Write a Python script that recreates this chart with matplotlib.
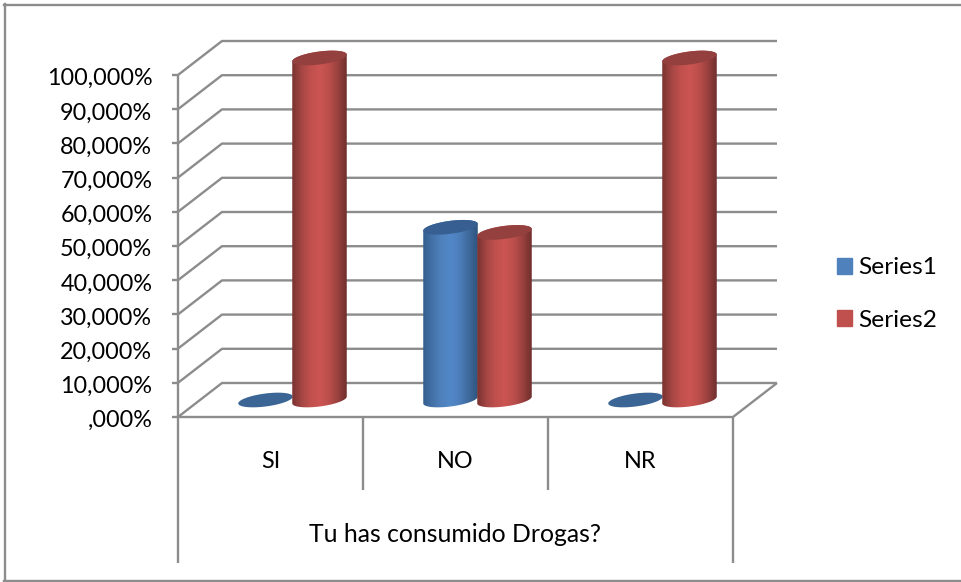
import numpy as np
import matplotlib
matplotlib.use('Agg')
import matplotlib.pyplot as plt
from matplotlib.colors import LinearSegmentedColormap
from matplotlib.lines import Line2D
from matplotlib.patches import Patch, PathPatch
from matplotlib.path import Path
from matplotlib.transforms import ScaledTranslation

categories = ['SI', 'NO', 'NR']
series_names = ['Series1', 'Series2']
series1 = [0, 50.5, 0]
series2 = [100, 49, 100]
y_ticks = [0, 10, 20, 30, 40, 50, 60, 70, 80, 90, 100]
y_labels = [',000%', '10,000%', '20,000%', '30,000%', '40,000%', '50,000%',
            '60,000%', '70,000%', '80,000%', '90,000%', '100,000%']
group_label = 'Tu has consumido Drogas?'

W, H = 962, 582
plt.rcParams['font.family'] = ['Lato', 'DejaVu Sans']

# plot box of the front plane, in pixels
left, right, y0, y100 = 178, 733, 417, 75
px = 3 / (right - left)         # category units per pixel
py = 100 / (y0 - y100)          # percent per pixel
depth_x, depth_y = 44 * px, 34 * py

grid_col = '#8c8c8c'
grid_lw = 1.7
cyl_w = 54.5 * px
ell_h = 6.5 * py
tilt = 3.4 * py  # rise of the right end of the ellipses

cmap1 = LinearSegmentedColormap.from_list('c1', ['#345f8f', '#4472a8', '#4f81bd', '#5288c8', '#4d7fbb', '#3f6a9c', '#2f5580'])
cmap2 = LinearSegmentedColormap.from_list('c2', ['#7a3331', '#a44644', '#c0504d', '#cc5552', '#bc4f4c', '#9c4240', '#6f2f2d'])
top_cols = ['#375f91', '#94403e']
base_cols = ['#3a6595', '#a64745']

fig = plt.figure(figsize=(W / 100, H / 100), dpi=100)
ax = fig.add_axes([left / W, (H - y0) / H, (right - left) / W, (y0 - y100) / H])
ax.set_xlim(0, 3)
ax.set_ylim(0, 100)
ax.patch.set_visible(False)
for s in ax.spines.values():
    s.set_visible(False)

ax.set_yticks(y_ticks)
ax.set_yticklabels(y_labels, fontsize=16.8, color='black')
ax.tick_params(axis='y', length=4.5, width=grid_lw, color=grid_col, pad=14)
ax.set_xticks([])
shift = ScaledTranslation(0, -1.3 / 72, fig.dpi_scale_trans)
for lbl in ax.get_yticklabels():
    lbl.set_transform(lbl.get_transform() + shift)


def line(xs, ys):
    ax.plot(xs, ys, color=grid_col, lw=grid_lw, clip_on=False, solid_capstyle='butt', zorder=1)


# walls and floor
for v in y_ticks:
    line([0, depth_x, 3 + depth_x], [v, v + depth_y, v + depth_y])
line([0, 0], [0, 100])
line([0, 3, 3 + depth_x], [0, 0, depth_y])

# category box under the floor
low, mid = (y0 - 563) * py, (y0 - 490) * py
line([0, 0], [0, low])
line([3, 3], [0, low])
line([1, 1], [0, mid])
line([2, 2], [0, mid])
for i, c in enumerate(categories):
    ax.text(i + 0.5, (y0 - 461) * py, c, ha='center', va='center', fontsize=16.8, clip_on=False)
ax.text(1.5, (y0 - 535) * py, group_label, ha='center', va='center', fontsize=17.8, clip_on=False)


def ellipse(cx, cy, t):
    return cx + cyl_w / 2 * np.cos(t), cy + ell_h * np.sin(t) + tilt * np.cos(t)


def cylinder(cx, val, cm, top_col, base_col, z):
    cy = depth_y / 2
    t = np.linspace(0, 2 * np.pi, 90)
    if val <= 0:
        ex, ey = ellipse(cx, cy, t)
        ax.fill(ex, ey, color=base_col, clip_on=False, zorder=z, lw=0)
        return
    # outline: front half of the base, then up and over the back
    bx, by = ellipse(cx, cy, np.linspace(np.pi, 2 * np.pi, 45))
    tx, ty = ellipse(cx, cy + val, np.linspace(0, np.pi, 45))
    verts = np.column_stack([np.r_[bx, tx], np.r_[by, ty]])
    verts = np.vstack([verts, verts[0]])
    clip = PathPatch(Path(verts), transform=ax.transData, fc='none', ec='none')
    ax.add_patch(clip)
    im = ax.imshow(np.linspace(0, 1, 64)[None, :], cmap=cm, aspect='auto', zorder=z,
                   extent=[cx - cyl_w / 2, cx + cyl_w / 2, cy - ell_h - tilt, cy + val + ell_h + tilt])
    im.set_clip_box(fig.bbox)
    im.set_clip_path(clip)
    ex, ey = ellipse(cx, cy + val, t)
    ax.fill(ex, ey, color=top_col, clip_on=False, zorder=z + 0.1, lw=0)


for i in range(len(categories)):
    cx = i + 0.5 + depth_x / 2
    cylinder(cx - 27 * px, series1[i], cmap1, top_cols[0], base_cols[0], 3 + i)
    cylinder(cx + 27 * px, series2[i], cmap2, top_cols[1], base_cols[1], 3.5 + i)
ax.set_xlim(0, 3)
ax.set_ylim(0, 100)

leg = fig.legend(handles=[Patch(color='#4f81bd', label=series_names[0]), Patch(color='#c0504d', label=series_names[1])],
                 loc='center left', bbox_to_anchor=(837 / W, (H - 294) / H), frameon=False, fontsize=17.6,
                 handlelength=0.62, handleheight=0.62, handletextpad=0.24, labelspacing=1.28, borderpad=0, borderaxespad=0)

# outer frame: left, top and bottom edges
for xs, ys in [([5, 5], [4, 581]), ([4, 961], [4.5, 4.5]), ([4, 961], [581, 581])]:
    fig.add_artist(Line2D([x / W for x in xs], [(H - y) / H for y in ys], transform=fig.transFigure,
                          color=grid_col, lw=1.7))

fig.savefig('out.png', dpi=100, facecolor='white')
